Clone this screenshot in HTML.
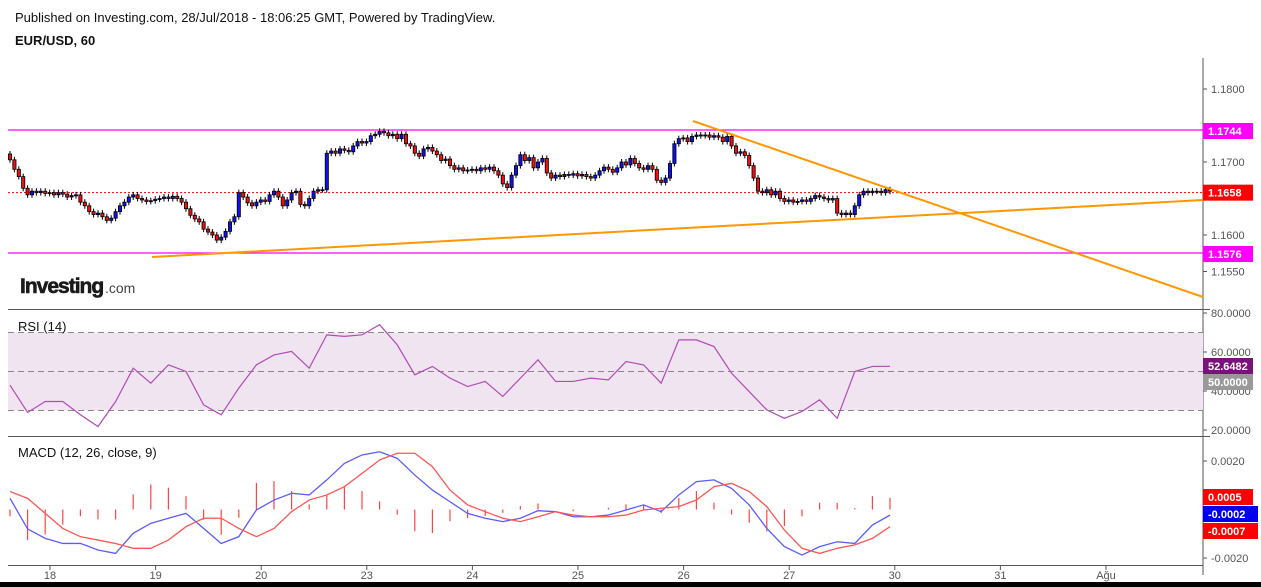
<!DOCTYPE html>
<html><head><meta charset="utf-8">
<style>
html,body{margin:0;padding:0;background:#fff;width:1261px;height:587px;overflow:hidden;font-family:"Liberation Sans",Arial,sans-serif;}
svg text{font-family:"Liberation Sans",Arial,sans-serif;}
</style></head>
<body>
<svg id="chart" width="1261" height="587" viewBox="0 0 1261 587" xmlns="http://www.w3.org/2000/svg">
<text x="15" y="22" font-size="13" fill="#111">Published on Investing.com, 28/Jul/2018 - 18:06:25 GMT, Powered by TradingView.</text>
<text x="15" y="45" font-size="13" font-weight="bold" fill="#111">EUR/USD, 60</text>
<g id="grid">
<line x1="1203" y1="58" x2="1203" y2="575" stroke="#555" stroke-width="1"/>
<line x1="8" y1="309.5" x2="1210" y2="309.5" stroke="#555"/>
<line x1="8" y1="436.5" x2="1210" y2="436.5" stroke="#555"/>
<line x1="8" y1="565.5" x2="1203" y2="565.5" stroke="#555"/>
</g>
<rect x="0" y="582" width="1261" height="5" fill="#000"/>
<g id="price"></g>
<g id="rsi"></g>
<g id="macd"></g>
<g id="axes"></g>
<g><text x="20" y="293" font-size="21" font-weight="bold" fill="#1a1a1a" letter-spacing="-1" stroke="#1a1a1a" stroke-width="0.6">Investing</text><text x="105" y="293" font-size="14" fill="#444">.com</text></g>
<text x="18" y="331" font-size="13" fill="#111">RSI (14)</text>
<text x="18" y="457" font-size="13" fill="#111">MACD (12, 26, close, 9)</text>
</svg>
<script>
const closes=[1.1703,1.1690,1.1680,1.1664,1.1655,1.1660,1.1658,1.1660,1.1657,1.1658,1.1655,1.1658,1.1656,1.1652,1.1654,1.1655,1.1645,1.1640,1.1632,1.1628,
1.1630,1.1625,1.1620,1.1623,1.1632,1.1640,1.1645,1.1652,1.1655,1.1650,1.1648,1.1646,1.1647,1.1649,1.1650,1.1652,1.1650,1.1653,1.1650,1.1645,
1.1636,1.1627,1.1622,1.1618,1.1608,1.1604,1.1600,1.1593,1.1597,1.1605,1.1618,1.1625,1.1658,1.1652,1.1644,1.1640,1.1645,1.1648,1.1646,1.1655,
1.1660,1.1652,1.1640,1.1648,1.1658,1.1660,1.1642,1.1640,1.1650,1.1660,1.1662,1.1662,1.1712,1.1715,1.1712,1.1718,1.1716,1.1714,1.1722,1.1728,
1.1726,1.1728,1.1736,1.1738,1.1742,1.1740,1.1736,1.1738,1.1732,1.1738,1.1725,1.1722,1.1712,1.1708,1.1718,1.1720,1.1715,1.1710,1.1702,1.1704,
1.1695,1.1690,1.1692,1.1688,1.1689,1.1690,1.1688,1.1692,1.1690,1.1693,1.1688,1.1682,1.1670,1.1665,1.1682,1.1695,1.1710,1.1702,1.1706,1.1692,
1.1700,1.1705,1.1685,1.1678,1.1682,1.1680,1.1683,1.1682,1.1684,1.1681,1.1683,1.1680,1.1678,1.1682,1.1688,1.1693,1.1690,1.1686,1.1692,1.1700,
1.1696,1.1705,1.1698,1.1692,1.1690,1.1695,1.1690,1.1675,1.1672,1.1678,1.1698,1.1725,1.1732,1.1733,1.1728,1.1735,1.1737,1.1736,1.1737,1.1734,
1.1736,1.1734,1.1728,1.1735,1.1722,1.1712,1.1714,1.1709,1.1695,1.1678,1.1660,1.1658,1.1662,1.1655,1.1660,1.1650,1.1646,1.1648,1.1645,1.1646,
1.1648,1.1646,1.1650,1.1654,1.1652,1.1650,1.1648,1.1650,1.1630,1.1628,1.1630,1.1628,1.1640,1.1655,1.1660,1.1658,1.1660,1.1660,1.1658,1.1662,1.1660];
const rsiVals=[43,29,34.6,34.6,27.8,21.8,34.6,51.7,44,53.4,50,32.9,27.8,41.5,53.4,58.5,60.3,51.7,68.8,68,68.8,74,63.7,48.3,52.6,46.6,
42.3,44.9,37.2,46.6,56,44.9,44.9,46.6,45.7,55.1,53.4,44,66.2,66.2,62.8,49.1,39.7,30.3,26,29.5,35.5,26,50,52.6,52.65];
const macdLine=[4.6,-8,-11.9,-14,-14,-16.7,-18.1,-9.8,-5.7,-3.6,-1.6,-7.8,-14,-11.2,-0.2,3.9,6.7,6,12.2,19,22.5,23.8,21.1,14.2,8,3.2,
-1.6,-3.6,-5,-3.6,-0.5,-0.9,-3,-3,-2.3,-0.2,1.9,-0.9,6,11.5,12.2,8.7,1.9,-7.8,-15.3,-18.8,-15.3,-13.3,-14,-6.4,-2.3];
const signalLine=[7.4,4.6,-1.6,-7.8,-11.2,-12.6,-14,-16,-16,-12.6,-7.1,-3.6,-3.6,-7.8,-11.2,-7.8,-0.9,3.9,6,9.4,14.9,20.4,23.2,23.2,17.7,8,
1.9,-0.9,-3.6,-5,-3,-0.9,-2.3,-3,-3,-2.3,-0.2,0.5,1.2,3.9,9.4,10.8,7.4,1.2,-8.5,-16,-18.1,-16,-14.6,-11.9,-7.1];
const priceTicks=[1.1800,1.1700,1.1600,1.1550];
const rsiTicks=[80,60,40,20];
const macdTicks=[0.0020,-0.0020];
const dayLabels=["18","19","20","23","24","25","26","27","30","31","Ağu"];

const NS="http://www.w3.org/2000/svg";
function el(tag,attrs,parent){const e=document.createElementNS(NS,tag);for(const k in attrs)e.setAttribute(k,attrs[k]);parent.appendChild(e);return e;}
const xC=i=>10+i*4.4;
const yP=p=>162+(1.17-p)*7300;
const yR=v=>313+(80-v)*1.95;
const yM=v=>509.5-v*2.425;
const xS=k=>xC(k*4);

const gP=document.getElementById('price'),gR=document.getElementById('rsi'),gM=document.getElementById('macd'),gA=document.getElementById('axes');

let l=el('line',{x1:8,y1:130,x2:1203,y2:130,stroke:'#ff00ff','stroke-width':1.2},gP);

l=el('line',{x1:8,y1:253,x2:1203,y2:253,stroke:'#ff00ff','stroke-width':1.2},gP);

l=el('line',{x1:8,y1:yP(1.1658),x2:1203,y2:yP(1.1658),stroke:'#e00','stroke-width':1,'stroke-dasharray':'2,2'},gP);

for(let i=0;i<closes.length;i++){
  const c=closes[i],o=i>0?closes[i-1]:c+0.0008;
  const x=xC(i),top=yP(Math.max(o,c)),bot=yP(Math.min(o,c));
  const g=el('g',{},gP);
  
  
  el('line',{x1:x,y1:top-3,x2:x,y2:bot+3,stroke:'#000','stroke-width':1},g);
  el('rect',{x:x-1.6,y:top,width:3.2,height:Math.max(1,bot-top),fill:c>=o?'#1010ee':'#ee1010',stroke:'#000','stroke-width':0.8},g);
}
l=el('line',{x1:152,y1:257,x2:1203,y2:200,stroke:'#ff9800','stroke-width':2},gP);

l=el('line',{x1:693,y1:121,x2:1203,y2:297,stroke:'#ff9800','stroke-width':2},gP);


el('rect',{x:8,y:yR(70),width:1195,height:yR(30)-yR(70),fill:'#f0e4f1'},gR);
[70,50,30].forEach(v=>{const b=el('line',{x1:8,y1:yR(v),x2:1203,y2:yR(v),stroke:'#888','stroke-width':1,'stroke-dasharray':'6,4'},gR);
});
let pl=el('polyline',{points:rsiVals.map((v,k)=>xS(k)+','+yR(v)).join(' '),fill:'none',stroke:'#b04cb5','stroke-width':1.2},gR);


for(let k=0;k<macdLine.length;k++){
  const h=macdLine[k]-signalLine[k];
  const b=el('line',{x1:xS(k),y1:yM(0),x2:xS(k),y2:yM(h),stroke:'#ff4444','stroke-width':1.2},gM);
  
  
}
pl=el('polyline',{points:macdLine.map((v,k)=>xS(k)+','+yM(v)).join(' '),fill:'none',stroke:'#5b5bff','stroke-width':1.3},gM);

pl=el('polyline',{points:signalLine.map((v,k)=>xS(k)+','+yM(v)).join(' '),fill:'none',stroke:'#ff5555','stroke-width':1.3},gM);


function tick(y,txt,name){el('line',{x1:1203,y1:y,x2:1207,y2:y,stroke:'#555'},gA);
 const t=el('text',{x:1211,y:y+4,'font-size':11,fill:'#555'},gA);t.textContent=txt;
 }
priceTicks.forEach(p=>tick(yP(p),p.toFixed(4),'price-tick'));
rsiTicks.forEach(v=>tick(yR(v),v.toFixed(4),'rsi-tick'));
macdTicks.forEach(v=>tick(yM(v*1e4),v.toFixed(4),'macd-tick'));
function badge(y,txt,bg,name){const r=el('rect',{x:1203,y:y-8,width:txt.length>6&&txt[0]=='-'?55:50,height:16,fill:bg},gA);
 
 const t=el('text',{x:1208,y:y+4,'font-size':11,'font-weight':'bold',fill:'#fff'},gA);t.textContent=txt;
 }
badge(131,'1.1744','#ff00ff','level-1744');
badge(yP(1.1658),'1.1658','#ff0000','last-price');
badge(254,'1.1576','#ff00ff','level-1576');
badge(366,'52.6482','#7b117b','rsi-value');
badge(382,'50.0000','#999999','rsi-mid');
badge(497,'0.0005','#ff0000','macd-hist');
badge(514,'-0.0002','#0000ee','macd-value');
badge(531,'-0.0007','#ff0000','signal-value');
dayLabels.forEach((d,k)=>{const x=50+k*105.6;
 el('line',{x1:x,y1:565,x2:x,y2:570,stroke:'#555'},gA);
 const t=el('text',{x:x,y:579,'font-size':11,fill:'#555','text-anchor':'middle'},gA);t.textContent=d;
 });
</script>
</body></html>
